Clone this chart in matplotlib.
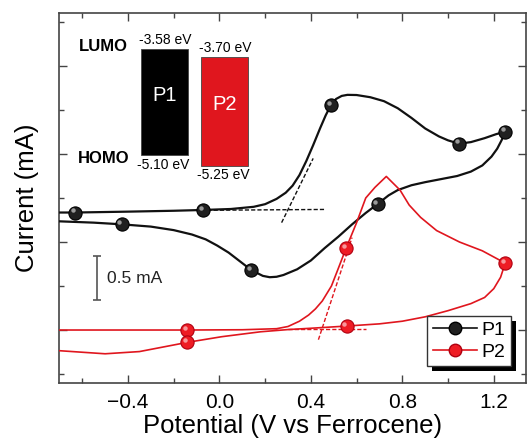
import matplotlib
matplotlib.use('Agg')
import matplotlib.pyplot as plt
from matplotlib.patches import Rectangle
from matplotlib.transforms import offset_copy
from matplotlib.ticker import MultipleLocator

plt.rcParams['font.family'] = ['Liberation Sans', 'DejaVu Sans']

# cyclic voltammograms (potential in V vs Fc, current in mA, offset per trace)
p1_v = [-0.70, -0.631, -0.40, -0.20, -0.072, 0.05, 0.15, 0.20, 0.25, 0.29, 0.32, 0.35, 0.38,
        0.41, 0.44, 0.465, 0.488, 0.51, 0.535, 0.56, 0.60, 0.66, 0.72, 0.78, 0.84, 0.90, 0.96,
        1.00, 1.048, 1.10, 1.16, 1.21, 1.25,
        1.235, 1.215, 1.19, 1.15, 1.10, 1.04, 0.97, 0.90, 0.84, 0.78, 0.74, 0.692, 0.64, 0.58,
        0.52, 0.46, 0.40, 0.34, 0.28, 0.25, 0.22, 0.19, 0.14, 0.09, 0.04, -0.01, -0.06, -0.12,
        -0.20, -0.30, -0.428, -0.55, -0.70]
p1_i = [1.335, 1.335, 1.345, 1.355, 1.364, 1.375, 1.40, 1.43, 1.49, 1.56, 1.64, 1.76, 1.92,
        2.10, 2.29, 2.44, 2.557, 2.625, 2.66, 2.672, 2.67, 2.645, 2.60, 2.52, 2.41, 2.29, 2.20,
        2.155, 2.117, 2.135, 2.18, 2.225, 2.254,
        2.16, 2.06, 1.97, 1.87, 1.80, 1.75, 1.715, 1.68, 1.645, 1.59, 1.53, 1.432, 1.33, 1.20,
        1.06, 0.93, 0.79, 0.69, 0.625, 0.605, 0.60, 0.615, 0.68, 0.78, 0.88, 0.96, 1.03, 1.085,
        1.135, 1.175, 1.201, 1.22, 1.235]
p1_marks = [1, 4, 16, 28, 32, 44, 55, 63]

p2_v = [-0.70, -0.40, -0.14, 0.10, 0.25, 0.30, 0.35, 0.39, 0.42, 0.45, 0.49, 0.52, 0.555,
        0.60, 0.64, 0.68, 0.73, 0.79, 0.83, 0.88, 0.95, 1.05, 1.15, 1.25,
        1.23, 1.20, 1.16, 1.10, 1.00, 0.90, 0.80, 0.70, 0.556, 0.40, 0.30, 0.18, 0.01,
        -0.14, -0.24, -0.35, -0.50, -0.70]
p2_i = [0.0, 0.0, 0.0, 0.003, 0.015, 0.04, 0.10, 0.17, 0.24, 0.33, 0.50, 0.70, 0.935,
        1.22, 1.50, 1.62, 1.745, 1.59, 1.42, 1.28, 1.13, 1.00, 0.90, 0.76,
        0.60, 0.47, 0.37, 0.30, 0.22, 0.15, 0.10, 0.07, 0.045, 0.02, 0.005, -0.02, -0.076,
        -0.14, -0.19, -0.245, -0.27, -0.235]
p2_marks = [2, 12, 23, 32, 37]

# onset construction lines
p1_base_v, p1_base_i = [-0.08, 0.46], [1.36, 1.37]
p1_slope_v, p1_slope_i = [0.272, 0.41], [1.22, 1.95]
p2_base_v, p2_base_i = [0.30, 0.64], [0.012, 0.012]
p2_slope_v, p2_slope_i = [0.433, 0.58], [-0.11, 1.05]

# frontier orbital energies (eV)
polymers = ['P1', 'P2']
lumo = [-3.58, -3.70]
homo = [-5.10, -5.25]

W, H = 528, 443
fig = plt.figure(figsize=(W / 100, H / 100), dpi=100)
ax = fig.add_axes([58.7 / W, 60 / H, (526 - 58.7) / W, 370 / H])

black = '#111111'
red = '#e0161e'


def sphere(x, y, face, edge):
    ax.plot(x, y, 'o', ms=9.5, mfc=face, mec=edge, mew=0.8, zorder=4)
    hl = offset_copy(ax.transData, fig=fig, x=-2.2, y=2.2, units='dots')
    ax.plot(x, y, 'o', ms=3.2, mfc='white', mec='none', alpha=0.55, transform=hl, zorder=5)


ax.plot(p1_v, p1_i, color=black, lw=1.6, zorder=3)
ax.plot(p2_v, p2_i, color=red, lw=1.2, zorder=3)
sphere([p1_v[k] for k in p1_marks], [p1_i[k] for k in p1_marks], '#202020', 'black')
sphere([p2_v[k] for k in p2_marks], [p2_i[k] for k in p2_marks], '#ee1c24', '#b00010')

ax.plot(p1_base_v, p1_base_i, '--', color=black, lw=1.0, dashes=(3, 1.5))
ax.plot(p1_slope_v, p1_slope_i, '--', color=black, lw=1.0, dashes=(3, 1.5))
ax.plot(p2_base_v, p2_base_i, '--', color=red, lw=1.0, dashes=(3, 1.5))
ax.plot(p2_slope_v, p2_slope_i, '--', color=red, lw=1.0, dashes=(3, 1.5))

# 0.5 mA scale bar
ax.errorbar([-0.536], [0.59], yerr=[0.25], color='#555555', lw=1.2, capsize=3, capthick=1.2)
ax.text(-0.49, 0.59, '0.5 mA', fontsize=12.5, va='center', ha='left', color='#222222')

ax.set_xlim(-0.703, 1.341)
ax.set_ylim(-0.602, 3.602)
ax.set_xticks([-0.4, 0.0, 0.4, 0.8, 1.2])
ax.xaxis.set_minor_locator(MultipleLocator(0.2))
ax.yaxis.set_major_locator(MultipleLocator(1.0))
ax.yaxis.set_minor_locator(MultipleLocator(0.5))
ax.set_yticklabels([])
ax.tick_params(which='both', direction='in', top=True, right=True, color='#444444', width=1.0)
ax.tick_params(which='major', length=6, labelsize=15, pad=7)
ax.tick_params(which='minor', length=3.5)
for s in ax.spines.values():
    s.set_color('#444444')
    s.set_linewidth(1.2)

ax.set_xlabel('Potential (V vs Ferrocene)', fontsize=18.5, labelpad=2)
ax.set_ylabel('Current (mA)', fontsize=18.5, labelpad=7)

# legend with solid drop shadow
h1, = ax.plot([], [], '-o', color=black, lw=1.2, ms=9, mfc='#202020', mec='black')
h2, = ax.plot([], [], '-o', color=red, lw=1.2, ms=9, mfc='#ee1c24', mec='#b00010')
leg = ax.legend([h1, h2], polymers, loc='lower right', bbox_to_anchor=(0.968, 0.045),
                fontsize=14, frameon=True, fancybox=False, framealpha=1, handlelength=2.3,
                handletextpad=0.2, borderpad=0.3, labelspacing=0.2, borderaxespad=0)
leg.get_frame().set_edgecolor('#333333')
leg.get_frame().set_linewidth(1.0)
leg.set_zorder(10)
fig.canvas.draw()
bb = leg.get_window_extent()
ax.add_patch(Rectangle((bb.x0 + 5, bb.y0 - 5), bb.width, bb.height, transform=None,
                       facecolor='black', edgecolor='none', zorder=9, clip_on=False))

# energy level diagram, x in pixels, y in eV
ins = fig.add_axes([95 / W, (H - 190) / H, 165 / W, 165 / H])
ins.set_xlim(95, 260)
ins.set_ylim(-5.594, -3.237)
ins.axis('off')
bar_x = [141.3, 200.7]
bar_w = [46.4, 47.6]
colors = ['black', red]
for k in range(2):
    ins.add_patch(Rectangle((bar_x[k], homo[k]), bar_w[k], lumo[k] - homo[k],
                            facecolor=colors[k], edgecolor='#444444', lw=0.6))
    cx = bar_x[k] + bar_w[k] / 2
    ins.text(cx, (lumo[k] + homo[k]) / 2 + 0.1, polymers[k], color='white', fontsize=14.5,
             ha='center', va='center')
    ins.text(cx + 1, lumo[k] + 0.03, '%.2f eV' % lumo[k], fontsize=10, ha='center', va='bottom')
    ins.text(cx - 1, homo[k] - 0.03, '%.2f eV' % homo[k], fontsize=10, ha='center', va='top')
ins.text(103, lumo[0] + 0.03, 'LUMO', fontsize=12, fontweight='bold', ha='center', va='center')
ins.text(104, homo[0] - 0.05, 'HOMO', fontsize=12, fontweight='bold', ha='center', va='center')

fig.savefig('out.png', dpi=100)
